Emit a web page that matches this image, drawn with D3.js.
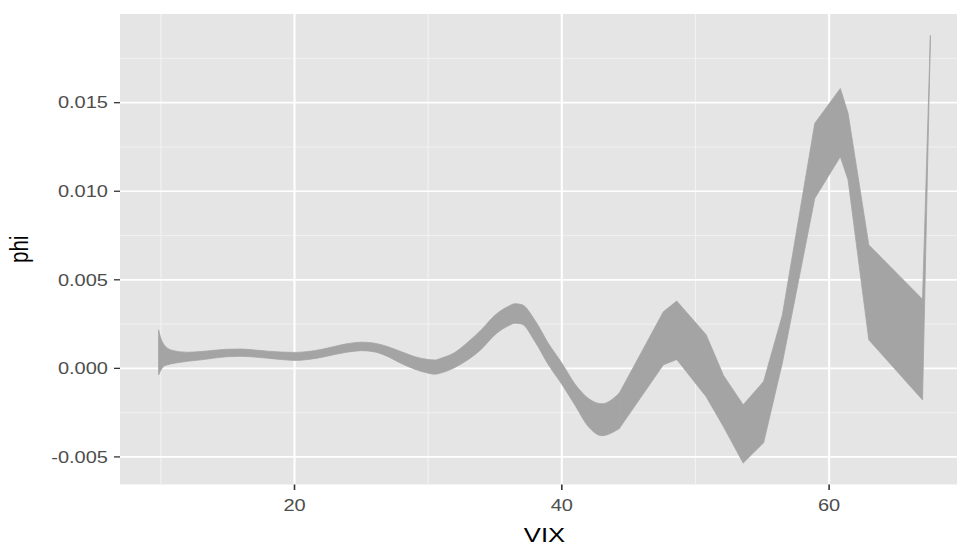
<!DOCTYPE html>
<html>
<head>
<meta charset="utf-8">
<script src="https://cdn.jsdelivr.net/npm/d3@7"></script>
<style>
  html, body { margin: 0; padding: 0; background: #ffffff; }
  svg { display: block; }
  text { font-family: "Liberation Sans", Arial, Helvetica, sans-serif; }
</style>
</head>
<body>
<svg id="chart" width="957" height="545"></svg>
<script>
// ---- data ----
const vix = [9.83, 10.0, 10.2, 10.5, 11.0, 11.5, 12, 13, 14, 15, 16, 17, 18, 19, 20, 21, 22, 23, 24, 25,
  26, 27, 28, 29, 30, 30.5, 31, 32, 33, 34, 35, 36, 36.5, 37, 38, 39, 40, 41, 42, 43, 44.3, 47.6, 48.6,
  50.8, 52.1, 53.57, 55.1, 56.5, 58.93, 60.84, 61.42, 62.97, 66.99, 67.58];
const phiUpper = [0.00217, 0.0017, 0.00138, 0.00114, 0.00099, 0.00093, 0.00091, 0.00095, 0.00102, 0.00108,
  0.00109, 0.00104, 0.00097, 0.00092, 0.0009, 0.00095, 0.00107, 0.00124, 0.0014, 0.00148,
  0.00142, 0.00122, 0.00094, 0.00066, 0.0005, 0.00047, 0.00058, 0.0009, 0.0015, 0.0022, 0.003, 0.0035,
  0.00365, 0.0036, 0.0027, 0.0014, 0.0003, -0.0009, -0.0017, -0.002, -0.0014, 0.0032, 0.0038,
  0.0019, -0.0004, -0.00206, -0.00074, 0.003, 0.01384, 0.0158, 0.0144, 0.00697, 0.0039, 0.0188];
const phiLower = [-0.00037, -0.0001, 0.0001, 0.0002, 0.00029, 0.00035, 0.0004, 0.00048, 0.00058, 0.00066,
  0.00068, 0.00064, 0.00057, 0.0005, 0.00045, 0.0005, 0.00062, 0.00078, 0.00092, 0.001,
  0.00093, 0.00066, 0.00027, -0.00005, -0.00027, -0.00033, -0.00025, 0.00005, 0.0005, 0.0011, 0.0019, 0.0024,
  0.00255, 0.0025, 0.0015, 0.0002, -0.0009, -0.0021, -0.0033, -0.0038, -0.0034, 0.0002, 0.0005,
  -0.0016, -0.0033, -0.00535, -0.0042, 0.0003, 0.0096, 0.01195, 0.01064, 0.00161, -0.00178, 0.01875];

const xMajor = [20, 40, 60];
const xMajorLabels = ["20", "40", "60"];
const xMinor = [10, 30, 50, 70];
const yMajor = [-0.005, 0, 0.005, 0.010, 0.015];
const yMajorLabels = ["-0.005", "0.000", "0.005", "0.010", "0.015"];
const yMinor = [-0.0025, 0.0025, 0.0075, 0.0125, 0.0175];
const xTitle = "VIX";
const yTitle = "phi";

// ---- layout ----
const panel = { left: 120, right: 969, top: 14, bottom: 484.5 };
const stretch = 1.25;      // horizontal stretch seen in the picture's text
const smoothUntil = 44.3;  // the dense left part of the ribbon is drawn smooth

const rows = vix.map((v, i) => ({ x: v, lo: phiLower[i], hi: phiUpper[i] }));
const smoothRows = rows.filter(d => d.x <= smoothUntil);
const sharpRows = rows.filter(d => d.x >= smoothUntil);

const xExt = d3.extent(vix);
const xPad = (xExt[1] - xExt[0]) * 0.05;
const yExt = [d3.min(phiLower), d3.max(phiUpper)];
const yPad = (yExt[1] - yExt[0]) * 0.05;

const x = d3.scaleLinear().domain([xExt[0] - xPad, xExt[1] + xPad]).range([panel.left, panel.right]);
const y = d3.scaleLinear().domain([yExt[0] - yPad, yExt[1] + yPad]).range([panel.bottom, panel.top]);

const svg = d3.select("#chart");

svg.append("defs").append("clipPath").attr("id", "clip")
  .append("rect").attr("x", panel.left).attr("y", panel.top)
  .attr("width", panel.right - panel.left).attr("height", panel.bottom - panel.top);

// panel background
svg.append("rect")
  .attr("x", panel.left).attr("y", panel.top)
  .attr("width", panel.right - panel.left).attr("height", panel.bottom - panel.top)
  .attr("fill", "#E5E5E5");

const grid = svg.append("g").attr("clip-path", "url(#clip)");

// minor grid
grid.selectAll(".ymin").data(yMinor).join("line")
  .attr("x1", panel.left).attr("x2", panel.right)
  .attr("y1", d => y(d)).attr("y2", d => y(d))
  .attr("stroke", "#F2F2F2").attr("stroke-width", 0.9);
grid.selectAll(".xmin").data(xMinor).join("line")
  .attr("y1", panel.top).attr("y2", panel.bottom)
  .attr("x1", d => x(d)).attr("x2", d => x(d))
  .attr("stroke", "#F2F2F2").attr("stroke-width", 1.1);
// major grid
grid.selectAll(".ymaj").data(yMajor).join("line")
  .attr("x1", panel.left).attr("x2", panel.right)
  .attr("y1", d => y(d)).attr("y2", d => y(d))
  .attr("stroke", "#FFFFFF").attr("stroke-width", 1.7);
grid.selectAll(".xmaj").data(xMajor).join("line")
  .attr("y1", panel.top).attr("y2", panel.bottom)
  .attr("x1", d => x(d)).attr("x2", d => x(d))
  .attr("stroke", "#FFFFFF").attr("stroke-width", 2.1);

// ribbon
const ribbonColor = "#A4A4A4";
const areaSmooth = d3.area()
  .x(d => x(d.x)).y0(d => y(d.lo)).y1(d => y(d.hi))
  .curve(d3.curveMonotoneX);
const areaSharp = d3.area()
  .x(d => x(d.x)).y0(d => y(d.lo)).y1(d => y(d.hi))
  .curve(d3.curveLinear);

const rib = svg.append("g").attr("clip-path", "url(#clip)");
rib.append("path").datum(smoothRows).attr("d", areaSmooth)
  .attr("fill", ribbonColor).attr("stroke", ribbonColor).attr("stroke-width", 0.8)
  .attr("stroke-linejoin", "round");
rib.append("path").datum(sharpRows).attr("d", areaSharp)
  .attr("fill", ribbonColor).attr("stroke", ribbonColor).attr("stroke-width", 0.8)
  .attr("stroke-linejoin", "round");

// ticks
const tickColor = "#333333";
svg.selectAll(".ytick").data(yMajor).join("line")
  .attr("x1", panel.left - 6).attr("x2", panel.left)
  .attr("y1", d => y(d)).attr("y2", d => y(d))
  .attr("stroke", tickColor).attr("stroke-width", 1.3);
svg.selectAll(".xtick").data(xMajor).join("line")
  .attr("y1", panel.bottom).attr("y2", panel.bottom + 5.5)
  .attr("x1", d => x(d)).attr("x2", d => x(d))
  .attr("stroke", tickColor).attr("stroke-width", 1.6);

// tick labels
const labColor = "#4D4D4D";
svg.selectAll(".ylab").data(yMajor).join("text")
  .attr("transform", d => `translate(${panel.left - 12},${y(d)}) scale(${stretch},1)`)
  .attr("dy", "0.36em")
  .attr("text-anchor", "end")
  .attr("font-size", 16)
  .attr("fill", labColor)
  .text((d, i) => yMajorLabels[i]);

svg.selectAll(".xlab").data(xMajor).join("text")
  .attr("transform", d => `translate(${x(d)},${panel.bottom + 26.5}) scale(${stretch},1)`)
  .attr("text-anchor", "middle")
  .attr("font-size", 16)
  .attr("fill", labColor)
  .text((d, i) => xMajorLabels[i]);

// axis titles
svg.append("text")
  .attr("transform", `translate(${(panel.left + panel.right) / 2},${542}) scale(${stretch},1)`)
  .attr("text-anchor", "middle")
  .attr("font-size", 20.5)
  .attr("fill", "#000000")
  .text(xTitle);

svg.append("text")
  .attr("transform", `translate(${28},${(panel.top + panel.bottom) / 2}) scale(${stretch},1) rotate(-90)`)
  .attr("text-anchor", "middle")
  .attr("font-size", 20.5)
  .attr("fill", "#000000")
  .text(yTitle);
</script>
</body>
</html>
